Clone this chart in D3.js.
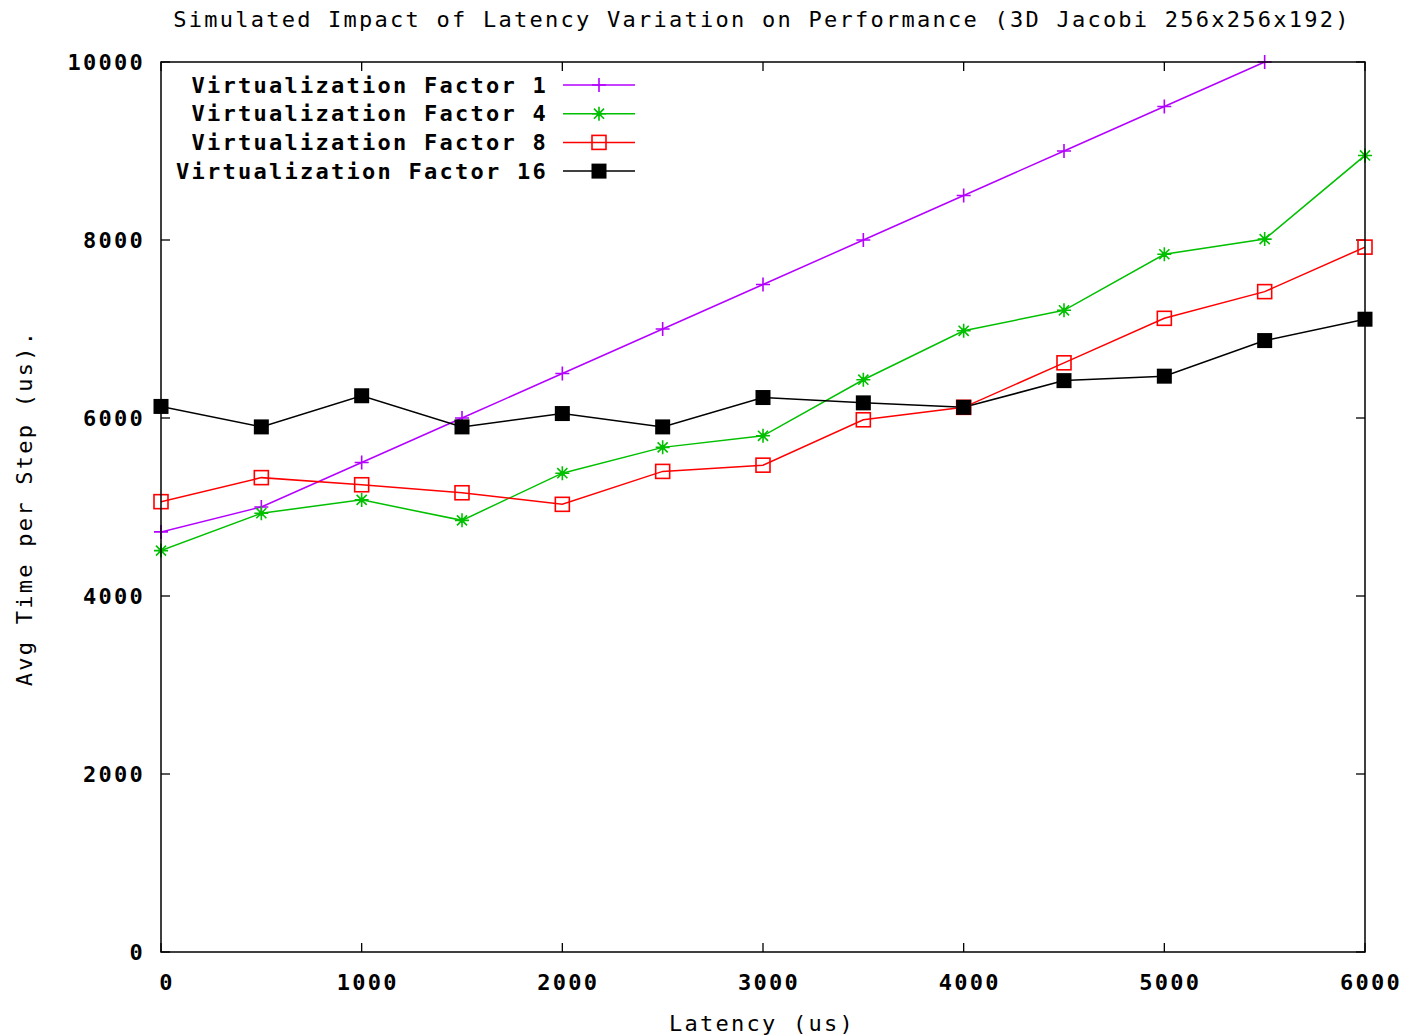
<!DOCTYPE html>
<html>
<head>
<meta charset="utf-8">
<script src="https://cdn.jsdelivr.net/npm/d3@7"></script>
<style>
  body { margin: 0; background: #fff; }
  text { font-family: "DejaVu Sans Mono", "Liberation Mono", monospace; }
</style>
</head>
<body>
<script>
// latencies (us)
const latency = [0, 500, 1000, 1500, 2000, 2500, 3000, 3500, 4000, 4500, 5000, 5500, 6000];

// avg time per step (us)
const vf1 = [4720, 5000, 5500, 6000, 6500, 7000, 7500, 8000, 8500, 9000, 9500, 10000];
const vf4 = [4510, 4930, 5080, 4850, 5380, 5670, 5800, 6430, 6980, 7210, 7840, 8010, 8950];
const vf8 = [5060, 5330, 5250, 5160, 5030, 5400, 5470, 5980, 6120, 6620, 7120, 7420, 7920];
const vf16 = [6130, 5900, 6250, 5900, 6050, 5900, 6230, 6170, 6120, 6420, 6470, 6870, 7110];

const seriesNames = ["Virtualization Factor 1", "Virtualization Factor 4", "Virtualization Factor 8", "Virtualization Factor 16"];
const xTicks = [0, 1000, 2000, 3000, 4000, 5000, 6000];
const yTicks = [0, 2000, 4000, 6000, 8000, 10000];

const width = 1410, height = 1036;
const plotLeft = 161, plotRight = 1365, plotTop = 62, plotBottom = 952;

const svg = d3.select("body").append("svg")
    .attr("width", width)
    .attr("height", height);

const x = d3.scaleLinear().domain([0, 6000]).range([plotLeft, plotRight]);
const y = d3.scaleLinear().domain([0, 10000]).range([plotBottom, plotTop]);

const series = [
    { name: seriesNames[0], values: vf1, color: "#b400ff", marker: "plus" },
    { name: seriesNames[1], values: vf4, color: "#00c000", marker: "star" },
    { name: seriesNames[2], values: vf8, color: "#ff0000", marker: "box" },
    { name: seriesNames[3], values: vf16, color: "#000000", marker: "filled" }
];

// ticks, inward on all four sides
const tickLen = 9;
const ticks = svg.append("g").attr("stroke", "#000").attr("stroke-width", 1.3);
xTicks.forEach(t => {
    ticks.append("line").attr("x1", x(t)).attr("x2", x(t)).attr("y1", plotBottom).attr("y2", plotBottom - tickLen);
    ticks.append("line").attr("x1", x(t)).attr("x2", x(t)).attr("y1", plotTop).attr("y2", plotTop + tickLen);
});
yTicks.forEach(t => {
    ticks.append("line").attr("x1", plotLeft).attr("x2", plotLeft + tickLen).attr("y1", y(t)).attr("y2", y(t));
    ticks.append("line").attr("x1", plotRight).attr("x2", plotRight - tickLen).attr("y1", y(t)).attr("y2", y(t));
});

// tick labels
const labelStyle = s => s.attr("font-size", 22).attr("font-weight", "bold")
    .attr("letter-spacing", 2.25).attr("fill", "#000");

svg.append("g").selectAll("text").data(xTicks).join("text")
    .call(labelStyle)
    .attr("x", d => x(d) + 6)
    .attr("y", 982)
    .attr("dy", "0.35em")
    .attr("text-anchor", "middle")
    .text(d => d);

svg.append("g").selectAll("text").data(yTicks).join("text")
    .call(labelStyle)
    .attr("x", 145)
    .attr("y", d => y(d))
    .attr("dy", "0.35em")
    .attr("text-anchor", "end")
    .text(d => d);

// clip to the plot area
svg.append("clipPath").attr("id", "plot")
    .append("rect").attr("x", plotLeft).attr("y", plotTop - 1)
    .attr("width", plotRight - plotLeft).attr("height", plotBottom - plotTop + 2);

const line = d3.line().x(d => x(d[0])).y(d => y(d[1]));

function drawMarker(g, kind, color, cx, cy) {
    const s = 7;
    if (kind === "plus") {
        g.append("path").attr("d", `M${cx - s},${cy}H${cx + s}M${cx},${cy - s}V${cy + s}`)
            .attr("stroke", color).attr("stroke-width", 1.6).attr("fill", "none");
    } else if (kind === "star") {
        const d = s * 0.72;
        g.append("path").attr("d", `M${cx - s},${cy}H${cx + s}M${cx},${cy - s}V${cy + s}` +
            `M${cx - d},${cy - d}L${cx + d},${cy + d}M${cx - d},${cy + d}L${cx + d},${cy - d}`)
            .attr("stroke", color).attr("stroke-width", 1.6).attr("fill", "none");
        g.append("circle").attr("cx", cx).attr("cy", cy).attr("r", 2.5).attr("fill", color);
    } else if (kind === "box") {
        g.append("rect").attr("x", cx - s).attr("y", cy - s).attr("width", 2 * s).attr("height", 2 * s)
            .attr("stroke", color).attr("stroke-width", 1.6).attr("fill", "none");
    } else {
        g.append("rect").attr("x", cx - s - 0.5).attr("y", cy - s - 0.5).attr("width", 2 * s + 1).attr("height", 2 * s + 1)
            .attr("fill", color);
    }
}

const plot = svg.append("g").attr("clip-path", "url(#plot)");
series.forEach(sr => {
    const pts = sr.values.map((v, i) => [latency[i], v]);
    plot.append("path").datum(pts)
        .attr("d", line)
        .attr("fill", "none")
        .attr("stroke", sr.color)
        .attr("stroke-width", 1.5);
});
series.forEach(sr => {
    const g = svg.append("g");
    sr.values.forEach((v, i) => drawMarker(g, sr.marker, sr.color, x(latency[i]), y(v)));
});

// border
svg.append("rect")
    .attr("x", plotLeft).attr("y", plotTop)
    .attr("width", plotRight - plotLeft).attr("height", plotBottom - plotTop)
    .attr("fill", "none").attr("stroke", "#000").attr("stroke-width", 1.5);

// legend
const legend = svg.append("g").attr("id", "legend");
series.forEach((sr, i) => {
    const ly = 85 + i * 28.7;
    legend.append("text")
        .call(labelStyle)
        .attr("x", 548).attr("y", ly).attr("dy", "0.35em")
        .attr("text-anchor", "end")
        .text(sr.name);
    legend.append("line")
        .attr("x1", 563).attr("x2", 635).attr("y1", ly).attr("y2", ly)
        .attr("stroke", sr.color).attr("stroke-width", 1.5);
    drawMarker(legend, sr.marker, sr.color, 599, ly);
});

// title and axis labels
const plainStyle = s => s.attr("font-size", 22).attr("letter-spacing", 2.25).attr("fill", "#000");

svg.append("text").call(plainStyle)
    .attr("x", 762).attr("y", 19).attr("dy", "0.35em")
    .attr("text-anchor", "middle")
    .text("Simulated Impact of Latency Variation on Performance (3D Jacobi 256x256x192)");

svg.append("text").call(plainStyle)
    .attr("x", 762).attr("y", 1023).attr("dy", "0.35em")
    .attr("text-anchor", "middle")
    .text("Latency (us)");

svg.append("text").call(plainStyle)
    .attr("transform", "translate(24,508) rotate(-90)")
    .attr("dy", "0.35em")
    .attr("text-anchor", "middle")
    .text("Avg Time per Step (us).");
</script>
</body>
</html>
